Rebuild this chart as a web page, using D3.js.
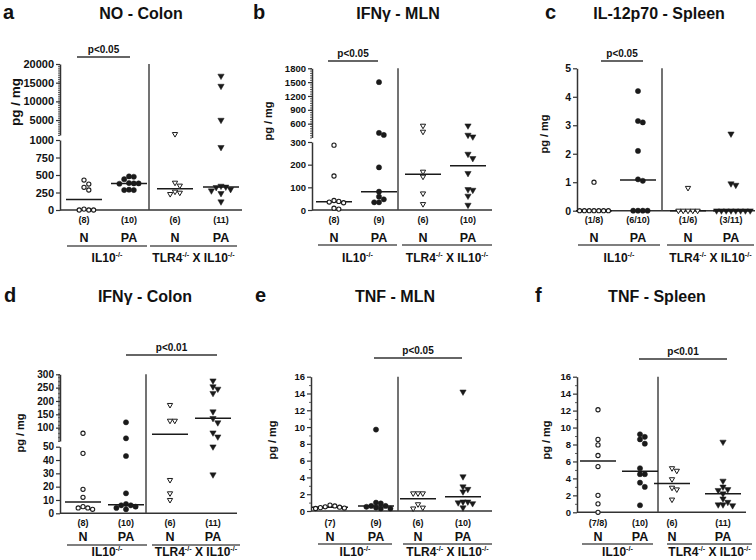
<!DOCTYPE html>
<html><head><meta charset="utf-8">
<script src="https://cdn.jsdelivr.net/npm/d3@7"></script>
<style>
body{margin:0;background:#fff}
svg{display:block}
text{font-family:"Liberation Sans",Arial,sans-serif;font-weight:bold;fill:#111}
</style>
</head><body><svg id="chart" width="756" height="560"></svg>
<script>
// ---------- data ----------
const groupKeys = ["IL10 N", "IL10 PA", "TLR4 N", "TLR4 PA"];
const groupShort = ["N", "PA", "N", "PA"];
const letters = ["a", "b", "c", "d", "e", "f"];
const titles = ["NO - Colon", "IFNγ - MLN", "IL-12p70 - Spleen", "IFNγ - Colon", "TNF - MLN", "TNF - Spleen"];
const pValues = ["p<0.05", "p<0.05", "p<0.05", "p<0.01", "p<0.05", "p<0.01"];

const noColonN   = [428, 371, 324, 286, 13, 0, 0, 0];
const noColonPA  = [480, 475, 440, 385, 380, 380, 375, 290, 285, 285];
const noColonTN  = [1250, 390, 348, 262, 247, 228];
const noColonTPA = [16800, 14100, 5000, 896, 343, 330, 324, 296, 276, 238, 119];
const noColonCounts = ["(8)", "(10)", "(6)", "(11)"];

const ifngMlnN   = [286, 150, 42, 38, 35, 32, 8, 4];
const ifngMlnPA  = [1500, 400, 355, 188, 81, 59, 47, 34, 34];
const ifngMlnTN  = [555, 425, 169, 147, 73, 26];
const ifngMlnTPA = [555, 354, 317, 247, 228, 162, 91, 88, 62, 22];
const ifngMlnCounts = ["(8)", "(9)", "(6)", "(10)"];

const il12SplN   = [1.0, 0, 0, 0, 0, 0, 0, 0];
const il12SplPA  = [4.2, 3.15, 3.1, 2.1, 1.1, 1.05, 0, 0, 0, 0];
const il12SplTN  = [0.8, 0, 0, 0, 0, 0];
const il12SplTPA = [2.7, 0.95, 0.9, 0, 0, 0, 0, 0, 0, 0, 0];
const il12SplCounts = ["(1/8)", "(6/10)", "(1/6)", "(3/11)"];

const ifngColN   = [79, 45, 18, 12, 5, 4, 4, 3];
const ifngColPA  = [120, 60, 43, 15, 7, 6, 6, 5, 4, 3];
const ifngColTN  = [185, 126, 126, 25, 15, 10];
const ifngColTPA = [276, 254, 245, 229, 160, 135, 119, 81, 66, 50, 29];
const ifngColCounts = ["(8)", "(10)", "(6)", "(11)"];

const tnfMlnN   = [0.7, 0.6, 0.5, 0.45, 0.4, 0.35, 0.3];
const tnfMlnPA  = [9.7, 1.0, 0.9, 0.6, 0.6, 0.5, 0.4, 0.3, 0.3];
const tnfMlnTN  = [2.1, 2.1, 2.1, 0.8, 0.3, 0.4];
const tnfMlnTPA = [14.2, 4.1, 2.9, 2.6, 2.3, 1.1, 1.1, 1.0, 0.9, 0.4];
const tnfMlnCounts = ["(7)", "(9)", "(6)", "(10)"];

const tnfSplN   = [12.1, 8.6, 7.95, 6.7, 5.4, 2.0, 1.0, 0];
const tnfSplPA  = [9.2, 8.9, 8.6, 8.1, 5.2, 4.5, 4.5, 3.5, 3.0, 0.83];
const tnfSplTN  = [5.2, 4.9, 3.9, 2.9, 2.7, 1.5];
const tnfSplTPA = [8.3, 3.7, 3.0, 2.7, 2.6, 2.2, 1.6, 1.2, 0.9, 0.9, 0.8];
const tnfSplCounts = ["(7/8)", "(10)", "(6)", "(11)"];

// tick labels
const noColonTicksLo = [0, 250, 500, 750, 1000];
const noColonTicksHi = [5000, 10000, 15000, 20000];
const ifngMlnTicksLo = [0, 100, 200, 300];
const ifngMlnTicksHi = [600, 900, 1200, 1500, 1800];
const il12SplTicks = [0, 1, 2, 3, 4, 5];
const ifngColTicksLo = [0, 10, 20, 30, 40, 50];
const ifngColTicksHi = [100, 150, 200, 250, 300];
const tnfTicks = [0, 2, 4, 6, 8, 10, 12, 14, 16];

// ---------- panel definitions (data refs + layout) ----------
const panels = [
  { series: [noColonN, noColonPA, noColonTN, noColonTPA], counts: noColonCounts,
    brk: 1000, top: 20000, lo: [210, 140], hi: [135, 64], ticksLo: noColonTicksLo, ticksHi: noColonTicksHi,
    minorHi: d3.range(1000, 20001, 500), minorLo: [],
    ax: 60, xEnd: 242, divX: 149, xs: [84, 129, 175, 221], pb: [77, 130, 57], pGroups: [0, 1],
    titleX: 141, letterX: 3, base: 19, ylx: 15, yly: 102, ylfs: 13.5, tfs: 11,
    cy: 223, ny: 242, uy: 246, u: [[67, 147], [150, 237]], gy: 262 },
  { series: [ifngMlnN, ifngMlnPA, ifngMlnTN, ifngMlnTPA], counts: ifngMlnCounts,
    brk: 300, top: 1800, lo: [210, 142], hi: [137.5, 68.3], ticksLo: ifngMlnTicksLo, ticksHi: ifngMlnTicksHi,
    minorHi: d3.range(300, 1801, 50), minorLo: [],
    ax: 312, xEnd: 492, divX: 398, xs: [334, 379, 423, 468], pb: [328, 378, 61], pGroups: [0, 1],
    titleX: 398, letterX: 253, base: 19, ylx: 268, yly: 121, ylfs: 11, tfs: 9.5,
    cy: 223, ny: 242, uy: 245, u: [[318, 397], [402, 492]], gy: 262 },
  { series: [il12SplN, il12SplPA, il12SplTN, il12SplTPA], counts: il12SplCounts,
    brk: null, top: 5, lo: [210.7, 68.3], ticksLo: il12SplTicks, ticksHi: [],
    minorHi: [], minorLo: [],
    ax: 577, xEnd: 755, divX: 662, xs: [594, 638, 688, 731], pb: [601, 643, 61], pGroups: [0, 1],
    titleX: 659, letterX: 545, base: 19, ylx: 544, yly: 134, ylfs: 11, tfs: 10.5,
    cy: 223, ny: 242, uy: 245, u: [[578, 660], [667, 754]], gy: 262 },
  { series: [ifngColN, ifngColPA, ifngColTN, ifngColTPA], counts: ifngColCounts,
    brk: 50, top: 300, lo: [513.3, 446.7], hi: [441, 374.3], ticksLo: ifngColTicksLo, ticksHi: ifngColTicksHi,
    minorHi: d3.range(50, 301, 5), minorLo: [],
    ax: 60, xEnd: 237, divX: 146, xs: [83, 126, 170, 213], pb: [126, 217, 355], pGroups: [1, 3],
    titleX: 145, letterX: 4, base: 302, ylx: 20, yly: 433, ylfs: 11, tfs: 10,
    cy: 526, ny: 541, uy: 545, u: [[67, 147], [152, 240]], gy: 556 },
  { series: [tnfMlnN, tnfMlnPA, tnfMlnTN, tnfMlnTPA], counts: tnfMlnCounts,
    brk: null, top: 16, lo: [511, 376.7], ticksLo: tnfTicks, ticksHi: [],
    minorHi: [], minorLo: d3.range(1, 16, 2),
    ax: 311, xEnd: 492, divX: 398, xs: [330, 376, 418, 463], pb: [374, 462, 358], pGroups: [1, 3],
    titleX: 395, letterX: 255, base: 302, ylx: 272, yly: 440, ylfs: 11, tfs: 9.5,
    cy: 526, ny: 541, uy: 544, u: [[318, 392], [403, 492]], gy: 556 },
  { series: [tnfSplN, tnfSplPA, tnfSplTN, tnfSplTPA], counts: tnfSplCounts,
    brk: null, top: 16, lo: [512.3, 376.7], ticksLo: tnfTicks, ticksHi: [],
    minorHi: [], minorLo: d3.range(1, 16, 2),
    ax: 577, xEnd: 746, divX: 658, xs: [598, 640, 672, 723], pb: [639, 727, 359], pGroups: [1, 3],
    titleX: 657, letterX: 535, base: 302, ylx: 546, yly: 440, ylfs: 11, tfs: 9.5,
    cy: 526, ny: 541, uy: 544, u: [[582, 653], [667, 752]], gy: 556 }
];

const INK = "#1a1a1a", LINE = "#333";
const svg = d3.select("#chart");
const fmt = d3.format("d");

function swarm(values, cx, y, step) {
  const placed = [];
  const items = values.map(v => ({ v, y: y(v) })).sort((a, b) => a.y - b.y);
  for (const d of items) {
    for (let k = 0; k < 60; k++) {
      const off = k === 0 ? 0 : (k % 2 ? 1 : -1) * Math.ceil(k / 2) * step;
      const xx = cx + off;
      if (placed.every(p => Math.hypot(p.x - xx, p.y - d.y) >= step - 0.01)) {
        d.x = xx; placed.push(d); break;
      }
    }
  }
  return placed;
}

function styleAxis(sel, fs) {
  sel.attr("font-size", fs).attr("font-family", '"Liberation Sans",Arial,sans-serif')
     .attr("font-weight", "bold").attr("color", INK);
  sel.selectAll("path.domain").attr("stroke", LINE).attr("stroke-width", 1.5);
  sel.selectAll(".tick line").attr("stroke", LINE).attr("stroke-width", 1.2);
}

function minorAxis(g, scale, vals, ax) {
  if (!vals.length) return;
  const m = g.append("g").attr("transform", `translate(${ax},0)`)
    .call(d3.axisLeft(scale).tickValues(vals).tickSize(2).tickFormat(""));
  m.select(".domain").remove();
  m.selectAll(".tick line").attr("stroke", LINE).attr("stroke-width", 0.8);
}

function supLabel(g, x, y, parts, fs) {
  const t = g.append("text").attr("x", x).attr("y", y).attr("text-anchor", "middle").attr("font-size", fs);
  parts.forEach(([s, sup], i) => {
    t.append("tspan").text(s)
      .attr("font-size", sup ? fs * 0.6 : fs)
      .attr("dy", sup ? -fs * 0.4 : (i > 0 ? fs * 0.4 : 0));
  });
}

panels.forEach((p, pi) => {
  const g = svg.append("g");
  let yLo, yHi = null, y;
  if (p.brk !== null) {
    yLo = d3.scaleLinear([0, p.brk], p.lo);
    yHi = d3.scaleLinear([p.brk, p.top], p.hi);
    y = v => (v <= p.brk ? yLo(v) : yHi(v));
  } else {
    yLo = d3.scaleLinear([0, p.top], p.lo);
    y = yLo;
  }
  const x = d3.scaleOrdinal(groupKeys, p.xs);
  const yTop = yHi ? p.hi[1] : p.lo[1];

  // letter + title
  g.append("text").attr("x", p.letterX).attr("y", p.base).attr("font-size", 20).text(letters[pi]);
  g.append("text").attr("x", p.titleX).attr("y", p.base).attr("text-anchor", "middle").attr("font-size", 16).text(titles[pi]);

  // y axis label
  g.append("text").attr("transform", `translate(${p.ylx},${p.yly}) rotate(-90)`)
    .attr("text-anchor", "middle").attr("dominant-baseline", "central")
    .attr("font-size", p.ylfs).text("pg / mg");

  // y axes
  const aLo = g.append("g").attr("transform", `translate(${p.ax},0)`)
    .call(d3.axisLeft(yLo).tickValues(p.ticksLo).tickFormat(fmt).tickSize(4).tickSizeOuter(0).tickPadding(2));
  styleAxis(aLo, p.tfs);
  minorAxis(g, yLo, p.minorLo, p.ax);
  if (yHi) {
    const aHi = g.append("g").attr("transform", `translate(${p.ax},0)`)
      .call(d3.axisLeft(yHi).tickValues(p.ticksHi).tickFormat(fmt).tickSize(4).tickSizeOuter(0).tickPadding(2));
    styleAxis(aHi, p.tfs);
    minorAxis(g, yHi, p.minorHi, p.ax);
  }

  // x axis line
  g.append("line").attr("x1", p.ax).attr("x2", p.xEnd).attr("y1", y(0)).attr("y2", y(0))
    .attr("stroke", LINE).attr("stroke-width", 1.5);
  // divider
  g.append("line").attr("x1", p.divX).attr("x2", p.divX).attr("y1", yTop).attr("y2", y(0))
    .attr("stroke", "#444").attr("stroke-width", 1.5);

  // p-value bar
  g.append("line").attr("x1", p.pb[0]).attr("x2", p.pb[1]).attr("y1", p.pb[2]).attr("y2", p.pb[2])
    .attr("stroke", LINE).attr("stroke-width", 1.3);
  g.append("text").attr("x", (p.pb[0] + p.pb[1]) / 2).attr("y", p.pb[2] - 4)
    .attr("text-anchor", "middle").attr("font-size", 10).text(pValues[pi]);

  // series
  p.series.forEach((vals, si) => {
    const key = groupKeys[si];
    const cx = x(key);
    const med = d3.median(vals);
    g.append("line").attr("x1", cx - 18).attr("x2", cx + 18).attr("y1", y(med)).attr("y2", y(med))
      .attr("stroke", INK).attr("stroke-width", 1.5);
    const pts = swarm(vals, cx, y, 4.8);
    const filled = si % 2 === 1;
    const tri = si >= 2;
    pts.forEach(d => {
      if (!tri) {
        g.append("circle").attr("cx", d.x).attr("cy", d.y).attr("r", filled ? 2.6 : 2.1)
          .attr("fill", filled ? INK : "#fff").attr("stroke", INK).attr("stroke-width", filled ? 0.5 : 1.1);
      } else {
        g.append("path").attr("d", d3.symbol(d3.symbolTriangle, filled ? 17 : 12)())
          .attr("transform", `translate(${d.x},${d.y}) rotate(180)`)
          .attr("fill", filled ? INK : "#fff").attr("stroke", INK).attr("stroke-width", filled ? 0.5 : 1);
      }
    });
    g.append("text").attr("x", cx).attr("y", p.cy).attr("text-anchor", "middle").attr("font-size", 9).text(p.counts[si]);
    g.append("text").attr("x", cx).attr("y", p.ny).attr("text-anchor", "middle").attr("font-size", 12.5).text(groupShort[si]);
  });

  // underlines + genotype labels
  p.u.forEach(([a, b], ui) => {
    g.append("line").attr("x1", a).attr("x2", b).attr("y1", p.uy).attr("y2", p.uy)
      .attr("stroke", "#555").attr("stroke-width", 1.5);
    const parts = ui === 0 ? [["IL10", false], ["-/-", true]]
                           : [["TLR4", false], ["-/-", true], [" X IL10", false], ["-/-", true]];
    supLabel(g, (a + b) / 2, p.gy, parts, 12);
  });
});
</script>
</body></html>
